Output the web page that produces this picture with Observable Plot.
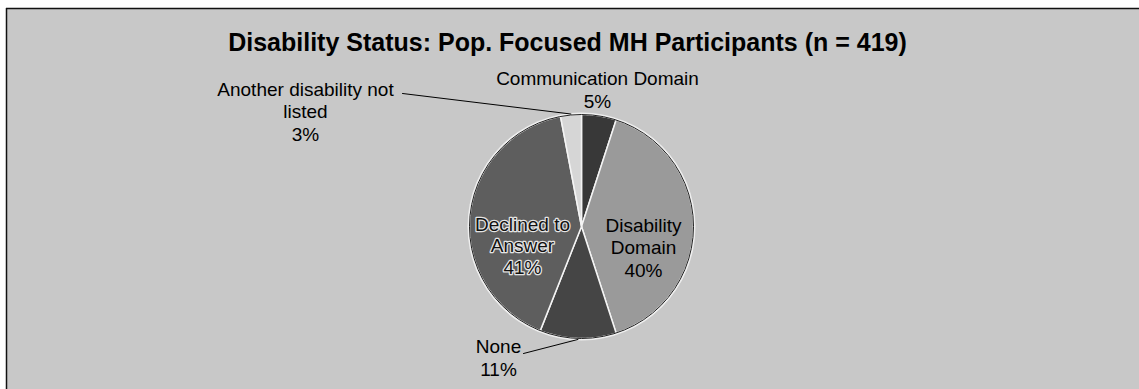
<!DOCTYPE html>
<html>
<head>
<meta charset="utf-8">
<script src="https://cdn.jsdelivr.net/npm/d3@7"></script>
<script src="https://cdn.jsdelivr.net/npm/@observablehq/plot@0.6"></script>
<style>
  html, body { margin: 0; padding: 0; background: #ffffff; }
  svg { display: block; }
</style>
</head>
<body>
<div id="chart"></div>
<script>
// ---- data ----
const title = "Disability Status: Pop. Focused MH Participants (n = 419)";
const categories = ["Communication Domain", "Disability Domain", "None", "Declined to Answer", "Another disability not listed"];
const values = [5, 40, 11, 41, 3];
const labelLines = [
  ["Communication Domain"],
  ["Disability", "Domain"],
  ["None"],
  ["Declined to", "Answer"],
  ["Another disability not", "listed"]
];

// ---- styles / layout ----
const W = 1139, H = 389;
const sliceColors = ["#383838", "#9a9a9a", "#454545", "#5e5e5e", "#d6d6d6"];
const bg = "#c8c8c8";
const pie = {cx: 581, cy: 226, r: 112};
// label anchors: centre x and baseline of the last line
const labelPos = [
  {x: 597, y: 107, halo: null},
  {x: 643, y: 276, halo: null},
  {x: 498, y: 375, halo: null},
  {x: 522, y: 273, halo: "#e4e4e4"},
  {x: 305, y: 140, halo: null}
];
// leader lines: start point near the label, end on the slice's rim
const leaders = [
  {slice: 4, x: 402, y: 93},
  {slice: 2, x: 523, y: 353}
];
const font = "'Liberation Sans', Arial, Helvetica, sans-serif";

// ---- geometry from data ----
const arcs = d3.pie().sort(null).value(d => d)(values);
const pt = (a, rr) => ({x: pie.cx + rr * Math.sin(a), y: pie.cy - rr * Math.cos(a)});
const slicePts = [];
arcs.forEach((a, i) => {
  const name = categories[i];
  slicePts.push({name, ...pt(0, 0)});
  const n = Math.max(2, Math.ceil((a.endAngle - a.startAngle) / (Math.PI / 180)));
  for (let k = 0; k <= n; k++) {
    const ang = a.startAngle + (a.endAngle - a.startAngle) * k / n;
    slicePts.push({name, ...pt(ang, pie.r)});
  }
  slicePts.push({name, ...pt(0, 0)});
});

const labels = categories.map((c, i) => ({
  name: c,
  text: [...labelLines[i], values[i] + "%"].join("\n"),
  x: labelPos[i].x,
  y: labelPos[i].y,
  halo: labelPos[i].halo
}));

const leaderPts = [];
leaders.forEach((l, j) => {
  const a = arcs[l.slice];
  const mid = (a.startAngle + a.endAngle) / 2;
  leaderPts.push({id: j, x: l.x, y: l.y});
  leaderPts.push({id: j, ...pt(mid, pie.r + 1)});
});

const plot = Plot.plot({
  width: W,
  height: H,
  margin: 0,
  x: {type: "identity", axis: null},
  y: {type: "identity", axis: null},
  color: {domain: categories, range: sliceColors},
  style: {fontFamily: font, background: "#ffffff"},
  marks: [
    Plot.frame({fill: bg, insetTop: 8, insetLeft: 6}),
    Plot.ruleY([8], {x1: 6, x2: W, stroke: "#111", strokeWidth: 1.5}),
    Plot.ruleX([6], {y1: 8, y2: H, stroke: "#111", strokeWidth: 1.5}),
    Plot.dot([pie], {x: "cx", y: "cy", r: pie.r + 2, fill: "#eeeeee", stroke: "none"}),
    Plot.line(slicePts, {x: "x", y: "y", z: "name", fill: "name", stroke: "#f4f4f4", strokeWidth: 1.5, curve: "linear"}),
    Plot.dot([pie], {x: "cx", y: "cy", r: pie.r, fill: "none", stroke: "#222", strokeWidth: 1}),
    Plot.line(leaderPts, {x: "x", y: "y", z: "id", stroke: "#000", strokeWidth: 1}),
    Plot.text(labels.filter(d => !d.halo), {
      x: "x", y: "y", text: "text", lineAnchor: "bottom", textAnchor: "middle",
      fontSize: 19, lineHeight: 1.17, fill: "#000"
    }),
    Plot.text(labels.filter(d => d.halo), {
      x: "x", y: "y", text: "text", lineAnchor: "bottom", textAnchor: "middle",
      fontSize: 19, lineHeight: 1.12, fill: "#111", stroke: "halo", strokeWidth: 2.5
    }),
    Plot.text([title], {
      x: () => 567, y: () => 50, text: d => d, lineAnchor: "bottom", textAnchor: "middle",
      fontSize: 25, fontWeight: "bold", fill: "#000"
    })
  ]
});
document.getElementById("chart").appendChild(plot);
</script>
</body>
</html>
